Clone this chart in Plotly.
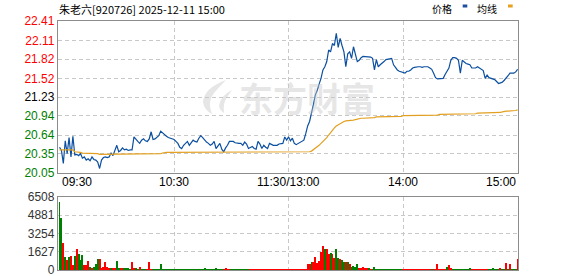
import plotly.graph_objects as go

# ---------------- data ----------------
stock_title = "朱老六[920726] 2025-12-11 15:00"
prev_close = 21.23
price_ticks = [22.41, 22.11, 21.82, 21.52, 21.23, 20.94, 20.64, 20.35, 20.05]
pct_labels = ["5.55%", "4.16%", "2.77%", "1.39%", "0.00%", "1.39%", "2.77%", "4.16%", "5.55%"]
vol_ticks = [0, 1627, 3254, 4881, 6508]
time_labels = ["09:30", "10:30", "11:30/13:00", "14:00", "15:00"]
time_pos = [0, 60, 120, 180, 240]

price = [
    20.45, 20.40, 20.20, 20.55, 20.35, 20.60, 20.30, 20.62, 20.33, 20.34,
    20.32, 20.35, 20.28, 20.30, 20.25, 20.27, 20.24, 20.30, 20.26, 20.25,
    20.22, 20.12, 20.25, 20.29, 20.30, 20.29, 20.30, 20.36, 20.32, 20.40,
    20.48, 20.38, 20.40, 20.44, 20.41, 20.42, 20.40, 20.41, 20.41, 20.61,
    20.57, 20.54, 20.51, 20.56, 20.58, 20.55, 20.54, 20.58, 20.69, 20.57,
    20.58, 20.60, 20.63, 20.70, 20.67, 20.65, 20.62, 20.60, 20.59, 20.58,
    20.57, 20.54, 20.51, 20.45, 20.43, 20.48, 20.51, 20.54, 20.48, 20.53,
    20.56, 20.54, 20.53, 20.59, 20.63, 20.60, 20.56, 20.53, 20.51, 20.48,
    20.50, 20.54, 20.43, 20.48, 20.51, 20.42, 20.38, 20.44, 20.48, 20.54,
    20.54, 20.54, 20.52, 20.51, 20.51, 20.51, 20.48, 20.53, 20.50, 20.43,
    20.45, 20.46, 20.43, 20.42, 20.54, 20.50, 20.43, 20.48, 20.45, 20.43,
    20.51, 20.49, 20.48, 20.48, 20.48, 20.50, 20.51, 20.51, 20.61, 20.56,
    20.61, 20.55, 20.59, 20.51, 20.49, 20.51, 20.53, 20.55, 20.56, 20.66,
    20.78, 20.85, 20.97, 21.11, 21.26, 21.33, 21.43, 21.52, 21.65, 21.70,
    21.78, 21.96, 21.93, 22.06, 22.03, 22.22, 22.00, 22.14, 22.03, 21.93,
    21.70, 21.90, 21.93, 21.83, 22.01, 21.90, 21.78, 21.80, 21.84, 21.86,
    21.86, 21.86, 21.86, 21.85, 21.83, 21.65, 21.81, 21.70, 21.73, 21.75,
    21.78, 21.81, 21.82, 21.83, 21.83, 21.73, 21.69, 21.65, 21.63, 21.62,
    21.61, 21.60, 21.63, 21.63, 21.65, 21.68, 21.69, 21.70, 21.70, 21.70,
    21.69, 21.70, 21.70, 21.70, 21.68, 21.66, 21.60, 21.53, 21.51, 21.51,
    21.51, 21.52, 21.58, 21.64, 21.68, 21.80, 21.84, 21.84, 21.83, 21.80,
    21.60, 21.80, 21.77, 21.75, 21.74, 21.73, 21.68, 21.68, 21.68, 21.70,
    21.68, 21.66, 21.64, 21.52, 21.57, 21.53, 21.52, 21.51, 21.50, 21.47,
    21.44, 21.45, 21.46, 21.49, 21.52, 21.56, 21.60, 21.60, 21.60, 21.62,
    21.66,
]

avg_price = [
    20.41, 20.41, 20.41, 20.41, 20.41, 20.41, 20.41, 20.41, 20.38, 20.38,
    20.38, 20.37, 20.36, 20.36, 20.36, 20.36, 20.36, 20.35, 20.35, 20.35,
    20.35, 20.34, 20.34, 20.34, 20.34, 20.34, 20.34, 20.34, 20.34, 20.34,
    20.34, 20.34, 20.34, 20.34, 20.34, 20.34, 20.34, 20.34, 20.34, 20.34,
    20.34, 20.34, 20.35, 20.35, 20.35, 20.35, 20.35, 20.35, 20.35, 20.35,
    20.35, 20.35, 20.35, 20.35, 20.36, 20.37, 20.37, 20.37, 20.37, 20.37,
    20.37, 20.37, 20.37, 20.37, 20.37, 20.37, 20.37, 20.37, 20.37, 20.37,
    20.37, 20.37, 20.37, 20.37, 20.37, 20.37, 20.37, 20.37, 20.37, 20.37,
    20.37, 20.37, 20.37, 20.37, 20.37, 20.37, 20.37, 20.37, 20.37, 20.37,
    20.37, 20.37, 20.37, 20.37, 20.37, 20.37, 20.37, 20.37, 20.37, 20.37,
    20.38, 20.38, 20.38, 20.38, 20.38, 20.38, 20.38, 20.38, 20.38, 20.38,
    20.38, 20.38, 20.38, 20.38, 20.38, 20.38, 20.38, 20.38, 20.38, 20.38,
    20.38, 20.38, 20.38, 20.38, 20.38, 20.38, 20.38, 20.38, 20.38, 20.38,
    20.38, 20.38, 20.39, 20.41, 20.43, 20.45, 20.48, 20.51, 20.54, 20.56,
    20.60, 20.64, 20.68, 20.72, 20.75, 20.78, 20.80, 20.82, 20.83, 20.85,
    20.86, 20.86, 20.86, 20.87, 20.87, 20.88, 20.89, 20.89, 20.90, 20.90,
    20.90, 20.91, 20.91, 20.91, 20.91, 20.91, 20.92, 20.92, 20.92, 20.92,
    20.92, 20.92, 20.93, 20.93, 20.93, 20.93, 20.93, 20.93, 20.93, 20.93,
    20.94, 20.94, 20.94, 20.94, 20.94, 20.94, 20.94, 20.95, 20.95, 20.95,
    20.95, 20.95, 20.95, 20.95, 20.95, 20.95, 20.95, 20.95, 20.95, 20.96,
    20.96, 20.96, 20.96, 20.96, 20.96, 20.96, 20.96, 20.97, 20.97, 20.97,
    20.97, 20.97, 20.97, 20.97, 20.97, 20.97, 20.97, 20.97, 20.97, 20.98,
    20.98, 20.98, 20.98, 20.98, 20.98, 20.98, 20.98, 20.98, 20.98, 20.98,
    20.99, 20.99, 21.00, 21.01, 21.01, 21.01, 21.01, 21.01, 21.01, 21.02,
    21.03,
]

volume = [
    6090, 4660, 2435, 1190, 890, 1190, 1275, 445, 1250, 1870,
    1400, 890, 1340, 445, 445, 800, 270, 150, 270, 535,
    980, 980, 100, 270, 740, 270, 100, 100, 100, 100,
    800, 100, 100, 100, 190, 190, 100, 60, 740, 100,
    100, 80, 270, 80, 60, 60, 80, 740, 80, 60,
    60, 80, 60, 535, 60, 60, 60, 60, 60, 60,
    60, 60, 60, 60, 60, 60, 60, 60, 60, 60,
    60, 60, 60, 60, 60, 60, 150, 60, 60, 60,
    60, 60, 100, 60, 60, 60, 60, 100, 60, 60,
    60, 60, 60, 60, 60, 60, 60, 60, 60, 60,
    60, 60, 60, 60, 60, 60, 60, 60, 60, 60,
    60, 60, 60, 60, 60, 60, 60, 60, 60, 60,
    60, 60, 60, 60, 60, 60, 60, 60, 60, 80,
    535, 535, 710, 710, 1160, 620, 800, 1600, 2140, 1870,
    1870, 1420, 1510, 1420, 1070, 1870, 1070, 980, 890, 710,
    710, 710, 535, 270, 360, 270, 535, 100, 100, 270,
    100, 100, 180, 80, 60, 270, 60, 60, 60, 60,
    60, 60, 60, 60, 60, 60, 60, 60, 60, 60,
    60, 60, 60, 60, 60, 60, 60, 60, 60, 60,
    60, 60, 60, 60, 60, 60, 60, 60, 535, 60,
    60, 60, 60, 270, 445, 100, 60, 60, 60, 60,
    60, 60, 60, 60, 60, 100, 60, 60, 60, 60,
    60, 60, 60, 60, 60, 60, 60, 100, 60, 60,
    60, 100, 60, 60, 620, 60, 535, 60, 60, 60,
    980,
]

# +1 = minute closed up (red), -1 = closed down (green)
vol_dir = [
    -1, -1, 1, -1, 1, -1, 1, 1, -1, 1,
    -1, -1, -1, 1, 1, 1, -1, 1, -1, -1,
    -1, 1, 1, 1, 1, 1, 1, -1, 1, 1,
    -1, -1, 1, 1, -1, -1, -1, -1, 1, 1,
    -1, -1, 1, -1, -1, -1, 1, 1, 1, -1,
    -1, -1, -1, -1, -1, -1, -1, -1, -1, -1,
    -1, -1, -1, -1, -1, -1, -1, -1, -1, -1,
    -1, -1, -1, -1, -1, -1, -1, -1, -1, -1,
    -1, -1, -1, -1, -1, -1, 1, 1, 1, 1,
    -1, -1, -1, -1, -1, -1, -1, -1, -1, -1,
    1, 1, 1, 1, 1, 1, 1, 1, 1, 1,
    1, 1, 1, 1, 1, 1, 1, 1, 1, 1,
    1, 1, 1, 1, 1, 1, 1, 1, 1, 1,
    1, 1, -1, 1, 1, 1, 1, 1, 1, -1,
    1, 1, -1, 1, 1, -1, -1, 1, -1, -1,
    1, -1, 1, -1, -1, -1, -1, 1, 1, 1,
    1, 1, -1, 1, -1, -1, -1, -1, -1, -1,
    -1, -1, -1, -1, -1, -1, -1, -1, -1, -1,
    1, 1, 1, 1, 1, 1, 1, 1, 1, 1,
    1, 1, 1, 1, 1, -1, 1, 1, 1, 1,
    1, 1, 1, -1, 1, 1, -1, -1, -1, -1,
    -1, -1, -1, -1, -1, -1, 1, 1, 1, 1,
    1, 1, 1, 1, 1, -1, -1, -1, -1, -1,
    -1, 1, -1, -1, 1, -1, 1, -1, -1, -1,
    1,
]

minutes = list(range(len(price)))

# ---------------- styling ----------------
W, H = 578, 276
ML, MR, MT, MB = 58, 60, 21, 6
PW, PH = W - ML - MR, H - MT - MB
RED, GREEN, DARK = "#ff0000", "#008000", "#000000"
GRID = "#c8c8c8"
FRAME = "#8c8c8c"
NUM_FONT = "Liberation Sans, Arial, sans-serif"
CJK_FONT = "Noto Sans CJK SC, sans-serif"


def px_x(px):
    return (px - ML) / PW


def px_y(py):
    return (H - MB - py) / PH


def tick_color(v):
    if v > prev_close + 1e-9:
        return RED
    if v < prev_close - 1e-9:
        return GREEN
    return DARK


price_text = [f'<span style="color:{tick_color(v)}">{v:.2f}</span>' for v in price_ticks]
pct_text = [f'<span style="color:{tick_color(v)}">{t}</span>' for v, t in zip(price_ticks, pct_labels)]
bar_colors = [RED if d > 0 else GREEN for d in vol_dir]

fig = go.Figure()
fig.add_trace(go.Scatter(x=minutes, y=price, mode="lines",
                         line=dict(color="#0b4fa0", width=1.2), xaxis="x", yaxis="y",
                         hoverinfo="skip"))
fig.add_trace(go.Scatter(x=minutes, y=avg_price, mode="lines",
                         line=dict(color="#e3a020", width=1.2), xaxis="x", yaxis="y",
                         hoverinfo="skip"))
fig.add_trace(go.Bar(x=minutes, y=volume, marker=dict(color=bar_colors, line=dict(width=0)),
                     width=0.5, xaxis="x2", yaxis="y2", hoverinfo="skip"))

xr = [-0.8, 240.2]
price_dom = [px_y(173), 1]
vol_dom = [0, px_y(197)]

common_x = dict(range=xr, tickvals=[60, 120, 180], showticklabels=False, ticks="",
                showgrid=True, gridcolor=GRID, griddash="4px,3px", gridwidth=1,
                showline=True, mirror=True, linecolor=FRAME, linewidth=1.3, zeroline=False,
                automargin=False)

fig.update_layout(
    template="none",
    width=W, height=H,
    margin=dict(l=ML, r=MR, t=MT, b=MB, autoexpand=False),
    paper_bgcolor="white", plot_bgcolor="white",
    showlegend=False, bargap=0,
    xaxis=dict(anchor="y", **common_x),
    xaxis2=dict(anchor="y2", matches="x", **common_x),
    yaxis=dict(domain=price_dom, range=[price_ticks[-1], price_ticks[0]],
               tickvals=price_ticks, ticktext=price_text, ticks="",
               tickfont=dict(family=NUM_FONT, size=12), ticklabeloverflow="allow",
               showgrid=True, gridcolor=GRID, griddash="4px,3px", gridwidth=1,
               showline=True, mirror=True, linecolor=FRAME, linewidth=1.3, zeroline=False,
               automargin=False),
    yaxis3=dict(overlaying="y", side="right", anchor="x",
                range=[price_ticks[-1], price_ticks[0]],
                tickvals=price_ticks, ticktext=pct_text, ticks="",
                tickfont=dict(family=NUM_FONT, size=12), ticklabeloverflow="allow",
                showgrid=False, showline=False, zeroline=False, automargin=False),
    yaxis2=dict(domain=vol_dom, range=[vol_ticks[0], vol_ticks[-1]],
                tickvals=vol_ticks, ticktext=[str(v) for v in vol_ticks], ticks="",
                tickfont=dict(family=NUM_FONT, size=12, color="#333333"),
                ticklabeloverflow="allow",
                showgrid=True, gridcolor=GRID, griddash="4px,3px", gridwidth=1,
                showline=True, mirror=True, linecolor=FRAME, linewidth=1.3, zeroline=False,
                automargin=False),
)

annotations = []
# watermark
annotations.append(dict(text="<b>东方财富</b>", xref="paper", yref="paper",
                        x=px_x(307), y=px_y(97), xanchor="center", yanchor="middle",
                        showarrow=False,
                        font=dict(family=CJK_FONT, size=34, color="rgba(200,200,200,0.45)")))
# title
annotations.append(dict(text=stock_title, xref="paper", yref="paper",
                        x=px_x(57), y=px_y(8.5), xanchor="left", yanchor="middle",
                        showarrow=False, font=dict(family=CJK_FONT, size=11, color="#000")))
# legend text
annotations.append(dict(text="价格", xref="paper", yref="paper", x=px_x(430), y=px_y(8),
                        xanchor="left", yanchor="middle", showarrow=False,
                        font=dict(family=CJK_FONT, size=10, color="#000")))
annotations.append(dict(text="均线", xref="paper", yref="paper", x=px_x(475), y=px_y(8),
                        xanchor="left", yanchor="middle", showarrow=False,
                        font=dict(family=CJK_FONT, size=10, color="#000")))
# time labels
anchors = ["left", "center", "center", "center", "right"]
for t, p, a in zip(time_labels, time_pos, anchors):
    annotations.append(dict(text=t, xref="x", yref="paper", x=p, y=px_y(182),
                            xanchor=a, yanchor="middle", showarrow=False,
                            font=dict(family=NUM_FONT, size=12, color="#000")))
fig.update_layout(annotations=annotations)

shapes = [
    dict(type="rect", xref="paper", yref="paper", x0=px_x(462.7), x1=px_x(467.3),
         y0=px_y(7.5), y1=px_y(4.5), fillcolor="#1f4e9c", line=dict(width=0)),
    dict(type="rect", xref="paper", yref="paper", x0=px_x(508), x1=px_x(512.7),
         y0=px_y(7.5), y1=px_y(4.5), fillcolor="#e6a11f", line=dict(width=0)),
]


def P(x, y):
    return f"{px_x(x):.4f},{px_y(y):.4f}"


# watermark logo (stylised leaf)
leaf = (f"M {P(226,80)} Q {P(204,88)} {P(203,102)} Q {P(204,110)} {P(212,114)} "
        f"Q {P(207,102)} {P(214,93)} Q {P(220,86)} {P(226,80)} Z "
        f"M {P(232,90)} Q {P(220,96)} {P(219,106)} Q {P(220,111)} {P(224,113)} "
        f"Q {P(223,104)} {P(226,99)} Q {P(229,94)} {P(232,90)} Z")
shapes.append(dict(type="path", xref="paper", yref="paper", path=leaf,
                   fillcolor="rgba(200,200,200,0.45)", line=dict(width=0), layer="below"))
fig.update_layout(shapes=shapes)

page_css = ("document.documentElement.style.margin='0';"
            "document.documentElement.style.overflow='hidden';"
            "document.body.style.margin='0';"
            "document.body.style.overflow='hidden';")

fig.write_html("out.html", post_script=page_css)
